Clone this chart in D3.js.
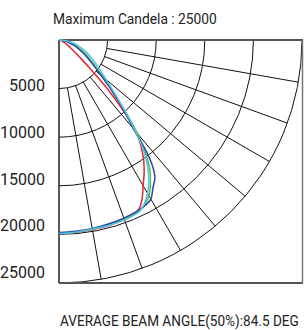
<!DOCTYPE html>
<html>
<head>
<meta charset="utf-8">
<script src="https://cdn.jsdelivr.net/npm/d3@7"></script>
<style>
  body { margin: 0; background: #fff; }
  text { font-family: Roboto, "Liberation Sans", sans-serif; fill: #222; }
</style>
</head>
<body>
<div id="chart"></div>
<script>
// angles in degrees from nadir (0 = straight down, 90 = horizontal)
const angles = [0, 5, 10, 15, 20, 25, 27.5, 30, 32.5, 35, 37.5, 40, 42.5, 45, 47.5, 50, 55, 60, 65, 70, 75, 80, 85, 90];

// candela values per plane
const redValues = [19900, 19850, 19800, 19750, 19650, 19300, 18500, 17300, 16300, 15200, 13900, 12400, 9600, 6800, 4300, 2900, 1600, 950, 600, 380, 220, 110, 50, 0];
const greenValues = [19850, 19800, 19750, 19650, 19600, 19450, 19100, 18500, 17500, 16300, 14600, 12500, 10300, 8300, 7000, 5900, 4400, 3400, 2600, 1900, 1300, 800, 380, 0];
const blueValues = [19800, 19750, 19700, 19600, 19500, 19350, 19200, 18900, 18000, 17200, 15300, 11900, 10000, 8200, 6800, 5600, 4100, 3100, 2300, 1650, 1100, 650, 280, 0];
const cyanValues = [19900, 19850, 19750, 19750, 19700, 19500, 19000, 18200, 17200, 15900, 14300, 12200, 10300, 8600, 7300, 6300, 5000, 4000, 3200, 2450, 1850, 1200, 600, 0];

const ringValues = [5000, 10000, 15000, 20000, 25000];
const ringLabels = ["5000", "10000", "15000", "20000", "25000"];
const spokeAngles = [10, 20, 30, 40, 50, 60, 70, 80];

const series = [
  { name: "red", values: redValues, color: "#e8262d" },
  { name: "green", values: greenValues, color: "#5cb847" },
  { name: "blue", values: blueValues, color: "#2e46a4" },
  { name: "cyan", values: cyanValues, color: "#4cc4e2" },
];

const width = 304;
const height = 330;
const ox = 59, oy = 40;

const svg = d3.select("#chart").append("svg")
  .attr("width", width)
  .attr("height", height);

const r = d3.scaleLinear().domain([0, 25000]).range([0, 243]);
const labelY = d3.scaleLinear().domain([5000, 25000]).range([91, 278]);
const rad = (deg) => (deg * Math.PI) / 180;

const g = svg.append("g").attr("transform", `translate(${ox},${oy})`);

// rings
ringValues.forEach((v) => {
  const p = d3.path();
  p.arc(0, 0, r(v), 0, Math.PI / 2);
  g.append("path")
    .attr("d", p.toString())
    .attr("fill", "none")
    .attr("stroke", "#111")
    .attr("stroke-width", 1);
});

// spokes
g.selectAll(".spoke")
  .data(spokeAngles)
  .join("line")
  .attr("class", "spoke")
  .attr("x1", (a) => r(5000) * Math.sin(rad(a)))
  .attr("y1", (a) => r(5000) * Math.cos(rad(a)))
  .attr("x2", (a) => r(25000) * Math.sin(rad(a)))
  .attr("y2", (a) => r(25000) * Math.cos(rad(a)))
  .attr("stroke", "#111")
  .attr("stroke-width", 1);

// frame
const side = r(25000);
g.append("line").attr("x1", 0).attr("y1", 0).attr("x2", side + 1).attr("y2", 0)
  .attr("stroke", "#555").attr("stroke-width", 2);
g.append("line").attr("x1", 0).attr("y1", side).attr("x2", side + 1).attr("y2", side)
  .attr("stroke", "#555").attr("stroke-width", 2);
g.append("line").attr("x1", side + 0.5).attr("y1", 0).attr("x2", side + 0.5).attr("y2", side)
  .attr("stroke", "#777").attr("stroke-width", 1.5);
g.append("line").attr("x1", 0).attr("y1", 0).attr("x2", 0).attr("y2", side)
  .attr("stroke", "#222").attr("stroke-width", 1.5);

// curves
const line = d3.lineRadial()
  .angle((d) => Math.PI - rad(d[0]))
  .radius((d) => r(d[1]))
  .curve(d3.curveCatmullRom.alpha(0.5));

series.forEach((s) => {
  g.append("path")
    .datum(angles.map((a, i) => [a, s.values[i]]))
    .attr("d", line)
    .attr("fill", "none")
    .attr("stroke", s.color)
    .attr("stroke-width", 1.5);
});

// ring labels
svg.selectAll(".rlabel")
  .data(ringValues)
  .join("text")
  .attr("class", "rlabel")
  .attr("x", 45)
  .attr("y", (v) => labelY(v))
  .attr("text-anchor", "end")
  .style("font-size", "16px")
  .text((v, i) => ringLabels[i]);

// condensed-looking text: squeeze horizontally to a target width
function squeezed(str, x, y, w, size) {
  const t = svg.append("text")
    .style("font-size", size + "px")
    .text(str);
  const natural = t.node().getComputedTextLength();
  t.attr("transform", `translate(${x},${y}) scale(${w / natural},1)`);
  return t;
}

squeezed("Maximum Candela : 25000", 53, 23.5, 164, 15.5);
squeezed("AVERAGE BEAM ANGLE(50%):84.5 DEG", 60, 325.5, 239, 15.5);
</script>
</body>
</html>
